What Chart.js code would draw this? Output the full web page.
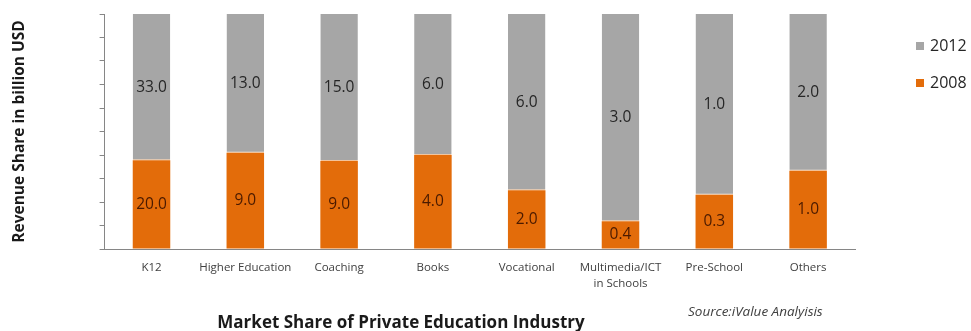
<!DOCTYPE html>
<html>
<head>
<meta charset="utf-8">
<script src="https://cdn.jsdelivr.net/npm/chart.js@4.4.1/dist/chart.umd.min.js"></script>
<style>
  html, body { margin: 0; padding: 0; background: #fff; }
</style>
</head>
<body>
<canvas id="chart" width="971" height="331"></canvas>
<script>
// revenue by segment, billion USD
const categories = ["K12", "Higher Education", "Coaching", "Books", "Vocational",
  ["Multimedia/ICT", "in Schools"], "Pre-School", "Others"];
const revenue2008 = [20.0, 9.0, 9.0, 4.0, 2.0, 0.4, 0.3, 1.0];
const revenue2012 = [33.0, 13.0, 15.0, 6.0, 6.0, 3.0, 1.0, 2.0];
const seriesNames = ["2008", "2012"];

const ORANGE = "#e36c0a";
const GREY = "#a6a6a6";
const FONT = "'Open Sans', sans-serif";

// each bar is 100% tall, split by the share of each year
const total = revenue2008.map((v, i) => v + revenue2012[i]);
const share2008 = revenue2008.map((v, i) => v / total[i] * 100);
const share2012 = revenue2012.map((v, i) => v / total[i] * 100);

// raw value written in the middle of every segment
const valueLabels = {
  id: "valueLabels",
  afterDatasetsDraw(chart) {
    const ctx = chart.ctx;
    ctx.save();
    ctx.font = "15.5px " + FONT;
    ctx.textAlign = "center";
    ctx.textBaseline = "middle";
    chart.data.datasets.forEach((ds, di) => {
      const meta = chart.getDatasetMeta(di);
      meta.data.forEach((bar, i) => {
        ctx.fillStyle = ds.labelColor;
        ctx.fillText(ds.values[i].toFixed(1), bar.x, (bar.y + bar.base) / 2);
      });
    });
    ctx.restore();
  }
};

// legend on the right, chart title and source note underneath
const extras = {
  id: "extras",
  afterDraw(chart) {
    const ctx = chart.ctx;
    const area = chart.chartArea;
    ctx.save();
    ctx.textBaseline = "middle";
    ctx.font = "16px " + FONT;
    const legendOrder = [1, 0];
    legendOrder.forEach((di, k) => {
      const ds = chart.data.datasets[di];
      const y = area.top + 32 + k * 37;
      ctx.fillStyle = ds.backgroundColor;
      ctx.fillRect(area.right + 61, y - 4, 8, 8);
      ctx.fillStyle = "#262626";
      ctx.textAlign = "left";
      ctx.fillText(ds.label, area.right + 75, y);
    });

    ctx.font = "bold 17px " + FONT;
    ctx.textAlign = "center";
    ctx.fillStyle = "#1a1a1a";
    ctx.fillText("Market Share of Private Education Industry", 401, 323);

    ctx.font = "italic 13.5px " + FONT;
    ctx.textAlign = "left";
    ctx.fillStyle = "#404040";
    ctx.fillText("Source:iValue Analyisis", 688, 312);
    ctx.restore();
  }
};

new Chart(document.getElementById("chart"), {
  type: "bar",
  data: {
    labels: categories,
    datasets: [
      {
        label: seriesNames[0],
        data: share2008,
        values: revenue2008,
        backgroundColor: ORANGE,
        labelColor: "#4a1a00"
      },
      {
        label: seriesNames[1],
        data: share2012,
        values: revenue2012,
        backgroundColor: GREY,
        borderColor: "#f2c49c",
        borderWidth: { bottom: 1 },
        borderSkipped: false,
        labelColor: "#262626"
      }
    ]
  },
  options: {
    responsive: false,
    animation: false,
    layout: { padding: { left: 4, right: 116, top: 14, bottom: 0 } },
    datasets: {
      bar: { barPercentage: 0.4, categoryPercentage: 1 }
    },
    plugins: {
      legend: { display: false },
      tooltip: { enabled: false }
    },
    scales: {
      x: {
        stacked: true,
        grid: { display: false, drawTicks: false },
        border: { color: "#868686" },
        ticks: {
          color: "#404040",
          font: { family: FONT, size: 11.5, lineHeight: 1.4 },
          padding: 11,
          maxRotation: 0,
          autoSkip: false
        },
        afterFit(scale) { scale.height = 82; }
      },
      y: {
        stacked: true,
        min: 0,
        max: 100,
        grid: { drawOnChartArea: false, drawTicks: true, tickLength: 5, color: "#868686" },
        border: { color: "#868686" },
        ticks: { display: false, stepSize: 10 },
        title: {
          display: true,
          text: "Revenue Share in billion USD",
          color: "#1a1a1a",
          font: { family: FONT, size: 15.5, weight: "bold" },
          padding: { top: 6, bottom: 71 }
        }
      }
    }
  },
  plugins: [valueLabels, extras]
});
</script>
</body>
</html>
